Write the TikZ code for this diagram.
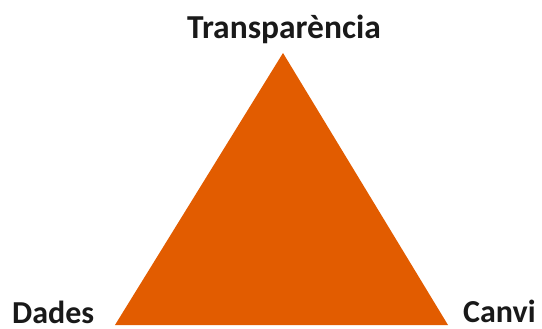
\documentclass[tikz,border=0pt]{standalone}
\usepackage{fontspec}
\setmainfont{Carlito}
\definecolor{tri}{RGB}{226,92,0}
\begin{document}
\begin{tikzpicture}[x=1pt,y=-1pt,
  lbl/.style={font=\bfseries\fontsize{32}{36}\selectfont, text=black!90, inner sep=0pt}]
\useasboundingbox (0,0) rectangle (542,329);
\coordinate (top) at (283,53);
\coordinate (bl) at (115,325);
\coordinate (br) at (448,325);
\fill[tri] (top) -- (bl) -- (br) -- cycle;
\node[lbl, anchor=base, font=\bfseries\fontsize{33.5}{36}\selectfont] (t) at (284,39) {Transparència};
\node[lbl, anchor=base west] (d) at (12,323.5) {Dades};
\node[lbl, anchor=base west] (c) at (463,322.5) {Canvi};
\end{tikzpicture}
\end{document}
